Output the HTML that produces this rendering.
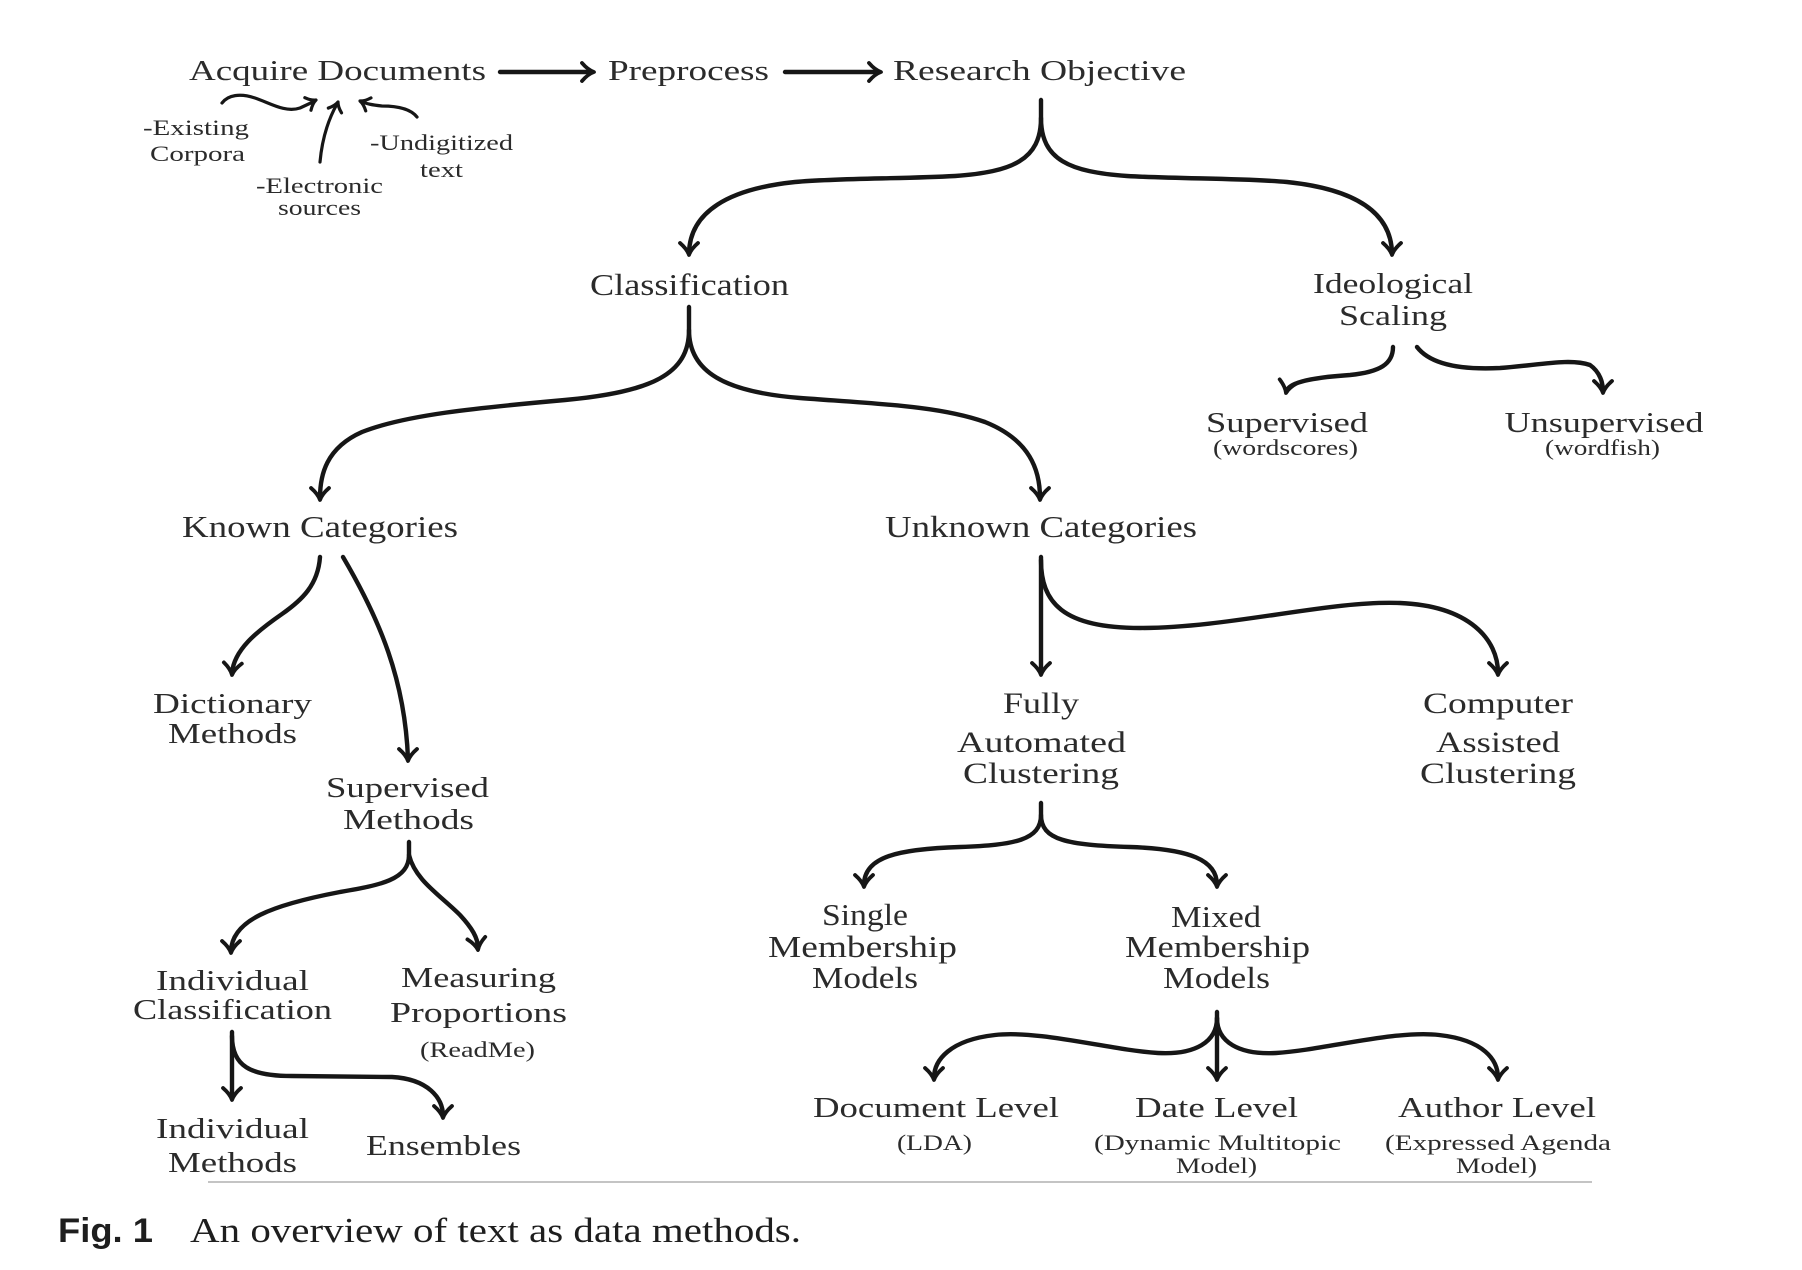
<!DOCTYPE html>
<html>
<head>
<meta charset="utf-8">
<style>
  html, body { margin: 0; padding: 0; background: #ffffff; }
  svg { display: block; }
  .t { font-family: "Liberation Serif", "DejaVu Serif", serif; fill: #2b2b2b; }
  .c { fill: none; stroke: #161616; stroke-width: 4.4; stroke-linecap: round; stroke-linejoin: round; }
  .s { fill: none; stroke: #161616; stroke-width: 3.2; stroke-linecap: round; stroke-linejoin: round; }
  .h { fill: none; stroke: #161616; stroke-width: 3.8; stroke-linecap: round; stroke-linejoin: round; }
</style>
</head>
<body>
<svg width="1802" height="1270" viewBox="0 0 1802 1270" xmlns="http://www.w3.org/2000/svg">
  <defs>
    <path id="ah" d="M-9,-12 Q-2,-6 0,0 Q2,-6 9,-12"/>
    <path id="ahs" d="M-7,-9 Q-1.5,-4.5 0,0 Q1.5,-4.5 7,-9"/>
  </defs>

  <!-- ===== Top row ===== -->
  <g class="t" font-size="29" text-anchor="middle">
    <text x="337.5" y="80" textLength="297" lengthAdjust="spacingAndGlyphs">Acquire Documents</text>
    <text x="688.5" y="80" textLength="161" lengthAdjust="spacingAndGlyphs">Preprocess</text>
    <text x="1039.5" y="80" textLength="293" lengthAdjust="spacingAndGlyphs">Research Objective</text>
  </g>
  <!-- top arrows -->
  <path class="c" d="M500,72 L592,72"/>
  <use href="#ah" class="h" transform="translate(594,72) rotate(-90)"/>
  <path class="c" d="M785,72 L879,72"/>
  <use href="#ah" class="h" transform="translate(881,72) rotate(-90)"/>

  <!-- sub labels -->
  <g class="t" font-size="22" text-anchor="middle">
    <text x="196" y="135" textLength="106" lengthAdjust="spacingAndGlyphs">-Existing</text>
    <text x="197.5" y="161" textLength="95" lengthAdjust="spacingAndGlyphs">Corpora</text>
    <text x="319.5" y="193" textLength="127" lengthAdjust="spacingAndGlyphs">-Electronic</text>
    <text x="319.5" y="215" textLength="83" lengthAdjust="spacingAndGlyphs">sources</text>
    <text x="441.5" y="150" textLength="143" lengthAdjust="spacingAndGlyphs">-Undigitized</text>
    <text x="441.5" y="177" textLength="43" lengthAdjust="spacingAndGlyphs">text</text>
  </g>
  <!-- small arrows -->
  <path class="s" d="M222,103 C228,95 240,93 255,98 C270,103 285,113 300,108 L315,101"/>
  <use href="#ahs" class="s" transform="translate(316,100) rotate(-116)"/>
  <path class="s" d="M320,162 C322,140 328,120 337,104"/>
  <use href="#ahs" class="s" transform="translate(338,102) rotate(-160)"/>
  <path class="s" d="M417,117 C410,108 395,106 382,106 C373,105 366,104 361,101"/>
  <use href="#ahs" class="s" transform="translate(360,101) rotate(112)"/>

  <!-- ===== Research Objective brace ===== -->
  <path class="c" d="M1041,100 L1041,118 C1041,160 1012,172 955,176 C900,179 840,178 795,182 C728,189 690,212 689,253"/>
  <path class="c" d="M1041,118 C1041,160 1070,172 1127,176 C1182,179 1242,178 1287,182 C1354,189 1391,212 1392,253"/>
  <use href="#ah" class="h" transform="translate(689,255)"/>
  <use href="#ah" class="h" transform="translate(1392,255)"/>

  <!-- Classification / Ideological Scaling -->
  <g class="t" text-anchor="middle">
    <text x="689.5" y="295" font-size="31" textLength="199" lengthAdjust="spacingAndGlyphs">Classification</text>
    <text x="1393" y="293" font-size="28" textLength="160" lengthAdjust="spacingAndGlyphs">Ideological</text>
    <text x="1393" y="325" font-size="28" textLength="108" lengthAdjust="spacingAndGlyphs">Scaling</text>
    <text x="1287" y="432" font-size="29" textLength="162" lengthAdjust="spacingAndGlyphs">Supervised</text>
    <text x="1285.5" y="455" font-size="22" textLength="145" lengthAdjust="spacingAndGlyphs">(wordscores)</text>
    <text x="1604" y="432" font-size="29" textLength="199" lengthAdjust="spacingAndGlyphs">Unsupervised</text>
    <text x="1602.5" y="455" font-size="22" textLength="115" lengthAdjust="spacingAndGlyphs">(wordfish)</text>
  </g>

  <!-- Ideological scaling branches -->
  <path class="c" d="M1393,347 C1393,364 1380,372 1350,375 C1305,378 1288,384 1287,391"/>
  <use href="#ah" class="h" transform="translate(1286,393) rotate(12)"/>
  <path class="c" d="M1417,347 C1430,364 1460,370 1500,368 C1540,365 1570,358 1590,365 C1600,372 1603,383 1603,391"/>
  <use href="#ah" class="h" transform="translate(1603,393)"/>

  <!-- Classification brace -->
  <path class="c" d="M689,307 L689,330 C689,374 652,392 565,400 C475,408 405,415 362,432 C326,448 320,475 320,498"/>
  <path class="c" d="M689,330 C689,372 725,392 800,398 C880,404 940,406 985,422 C1030,440 1040,470 1040,498"/>
  <use href="#ah" class="h" transform="translate(320,500)"/>
  <use href="#ah" class="h" transform="translate(1040,500)"/>

  <!-- Known / Unknown -->
  <g class="t" text-anchor="middle" font-size="31">
    <text x="320" y="537" textLength="276" lengthAdjust="spacingAndGlyphs">Known Categories</text>
    <text x="1041" y="537" textLength="312" lengthAdjust="spacingAndGlyphs">Unknown Categories</text>
  </g>

  <!-- Known branches -->
  <path class="c" d="M320,557 C318,585 302,600 282,614 C256,632 234,650 232,673"/>
  <use href="#ah" class="h" transform="translate(232,675) rotate(4)"/>
  <path class="c" d="M343,557 C380,620 405,680 408,759"/>
  <use href="#ah" class="h" transform="translate(408,761)"/>

  <!-- Unknown branches -->
  <path class="c" d="M1041,557 L1041,673"/>
  <use href="#ah" class="h" transform="translate(1041,675)"/>
  <path class="c" d="M1041,560 C1041,602 1062,628 1140,628 C1230,628 1330,600 1400,603 C1470,606 1498,640 1498,673"/>
  <use href="#ah" class="h" transform="translate(1498,675)"/>

  <!-- Dictionary / Supervised methods -->
  <g class="t" text-anchor="middle">
    <text x="232.5" y="713" font-size="28" textLength="159" lengthAdjust="spacingAndGlyphs">Dictionary</text>
    <text x="232.5" y="743" font-size="28" textLength="129" lengthAdjust="spacingAndGlyphs">Methods</text>
    <text x="407.5" y="797" font-size="29" textLength="163" lengthAdjust="spacingAndGlyphs">Supervised</text>
    <text x="408.5" y="829" font-size="29" textLength="131" lengthAdjust="spacingAndGlyphs">Methods</text>
  </g>

  <!-- Fully Automated / Computer Assisted -->
  <g class="t" text-anchor="middle" font-size="30">
    <text x="1041" y="713" textLength="76" lengthAdjust="spacingAndGlyphs">Fully</text>
    <text x="1041.5" y="752" textLength="169" lengthAdjust="spacingAndGlyphs">Automated</text>
    <text x="1041" y="783" textLength="156" lengthAdjust="spacingAndGlyphs">Clustering</text>
    <text x="1498" y="713" textLength="150" lengthAdjust="spacingAndGlyphs">Computer</text>
    <text x="1498" y="752" textLength="124" lengthAdjust="spacingAndGlyphs">Assisted</text>
    <text x="1498" y="783" textLength="156" lengthAdjust="spacingAndGlyphs">Clustering</text>
  </g>

  <!-- FAC brace -->
  <path class="c" d="M1041,803 L1041,815 C1041,840 1015,845 960,847 C900,849 864,856 864,885"/>
  <path class="c" d="M1041,815 C1041,840 1067,845 1130,847 C1190,849 1217,860 1217,885"/>
  <use href="#ah" class="h" transform="translate(864,887)"/>
  <use href="#ah" class="h" transform="translate(1217,887)"/>

  <!-- Single / Mixed Membership -->
  <g class="t" text-anchor="middle" font-size="31">
    <text x="865" y="925" textLength="86" lengthAdjust="spacingAndGlyphs">Single</text>
    <text x="862.5" y="957" textLength="189" lengthAdjust="spacingAndGlyphs">Membership</text>
    <text x="865" y="988" textLength="106" lengthAdjust="spacingAndGlyphs">Models</text>
    <text x="1216" y="927" textLength="90" lengthAdjust="spacingAndGlyphs">Mixed</text>
    <text x="1217.5" y="957" textLength="185" lengthAdjust="spacingAndGlyphs">Membership</text>
    <text x="1216.5" y="988" textLength="107" lengthAdjust="spacingAndGlyphs">Models</text>
  </g>

  <!-- Supervised Methods brace -->
  <path class="c" d="M409,842 L409,855 C409,880 380,885 340,892 C272,905 232,920 231,951"/>
  <path class="c" d="M409,855 C415,880 440,895 460,915 C472,928 478,938 478,948"/>
  <use href="#ah" class="h" transform="translate(231,953)"/>
  <use href="#ah" class="h" transform="translate(478,950) rotate(-8)"/>

  <!-- Individual Classification / Measuring Proportions -->
  <g class="t" text-anchor="middle" font-size="29">
    <text x="232.5" y="990" textLength="153" lengthAdjust="spacingAndGlyphs">Individual</text>
    <text x="232.5" y="1019" textLength="199" lengthAdjust="spacingAndGlyphs">Classification</text>
    <text x="478.5" y="987" textLength="155" lengthAdjust="spacingAndGlyphs">Measuring</text>
    <text x="478.5" y="1022" textLength="177" lengthAdjust="spacingAndGlyphs">Proportions</text>
    <text x="477.5" y="1057" font-size="22" textLength="115" lengthAdjust="spacingAndGlyphs">(ReadMe)</text>
  </g>

  <!-- IC branches -->
  <path class="c" d="M232,1032 L232,1098"/>
  <use href="#ah" class="h" transform="translate(232,1100)"/>
  <path class="c" d="M232,1036 C232,1066 250,1076 292,1076 L392,1077 C428,1079 443,1098 443,1116"/>
  <use href="#ah" class="h" transform="translate(443,1118)"/>

  <g class="t" text-anchor="middle" font-size="29">
    <text x="232.5" y="1138" textLength="153" lengthAdjust="spacingAndGlyphs">Individual</text>
    <text x="232.5" y="1172" textLength="129" lengthAdjust="spacingAndGlyphs">Methods</text>
    <text x="443.5" y="1155" textLength="155" lengthAdjust="spacingAndGlyphs">Ensembles</text>
  </g>

  <!-- Mixed Membership brace -->
  <path class="c" d="M1217,1012 L1217,1078"/>
  <use href="#ah" class="h" transform="translate(1217,1080)"/>
  <path class="c" d="M1217,1018 C1217,1042 1195,1055 1158,1053 C1110,1050 1040,1030 995,1035 C950,1040 934,1060 934,1078"/>
  <use href="#ah" class="h" transform="translate(934,1080)"/>
  <path class="c" d="M1217,1018 C1217,1042 1239,1055 1276,1053 C1324,1050 1394,1030 1439,1035 C1484,1040 1498,1060 1498,1078"/>
  <use href="#ah" class="h" transform="translate(1498,1080)"/>

  <!-- Level labels -->
  <g class="t" text-anchor="middle">
    <text x="936" y="1117" font-size="29" textLength="246" lengthAdjust="spacingAndGlyphs">Document Level</text>
    <text x="934.5" y="1150" font-size="22" textLength="75" lengthAdjust="spacingAndGlyphs">(LDA)</text>
    <text x="1216.5" y="1117" font-size="29" textLength="163" lengthAdjust="spacingAndGlyphs">Date Level</text>
    <text x="1217.5" y="1150" font-size="22" textLength="247" lengthAdjust="spacingAndGlyphs">(Dynamic Multitopic</text>
    <text x="1216.5" y="1173" font-size="22" textLength="81" lengthAdjust="spacingAndGlyphs">Model)</text>
    <text x="1497" y="1117" font-size="29" textLength="198" lengthAdjust="spacingAndGlyphs">Author Level</text>
    <text x="1498" y="1150" font-size="22" textLength="226" lengthAdjust="spacingAndGlyphs">(Expressed Agenda</text>
    <text x="1496.5" y="1173" font-size="22" textLength="81" lengthAdjust="spacingAndGlyphs">Model)</text>
  </g>

  <!-- rule -->
  <line x1="208" y1="1182" x2="1592" y2="1182" stroke="#c4c4c4" stroke-width="2"/>

  <!-- caption -->
  <text x="58" y="1242" font-family="'Liberation Sans', Arial, sans-serif" font-weight="bold" font-size="34" fill="#1e1e1e" textLength="95" lengthAdjust="spacingAndGlyphs">Fig. 1</text>
  <text x="190" y="1242" font-family="'Liberation Serif', serif" font-size="35" fill="#1e1e1e" textLength="611" lengthAdjust="spacingAndGlyphs">An overview of text as data methods.</text>
</svg>
</body>
</html>
